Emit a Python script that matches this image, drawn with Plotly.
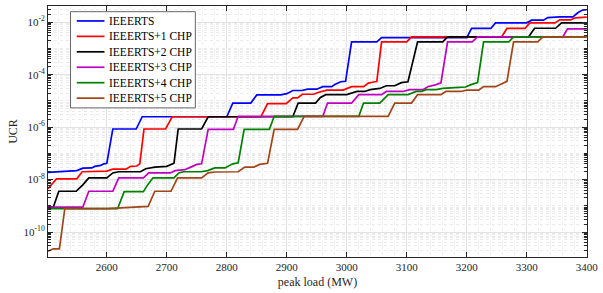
import plotly.graph_objects as go

# ---- data (peak load in MW, UCR) ----
x_base = [2502, 2540, 2550, 2560, 2575, 2580, 2590, 2595, 2600, 2610, 2649, 2659, 2800, 2810, 2840, 2850,
          2890, 2900, 2910, 2925, 2935, 2950, 2960, 2975, 2980, 2990, 2998, 3008, 3050, 3058, 3200, 3208,
          3240, 3248, 3300, 3308, 3328, 3335, 3355, 3377, 3385, 3393, 3400]
y_base = [1.9e-8, 2.1e-8, 2.2e-8, 2.75e-8, 2.8e-8, 3.2e-8, 3.5e-8, 4.0e-8, 4.2e-8, 8.5e-7, 8.5e-7, 2.5e-6,
          2.5e-6, 8.3e-6, 8.3e-6, 1.7e-5, 1.7e-5, 1.9e-5, 2.5e-5, 2.5e-5, 2.8e-5, 2.8e-5, 3.5e-5, 3.5e-5,
          4.2e-5, 5.4e-5, 5.6e-5, 1.8e-3, 1.8e-3, 2.6e-3, 2.6e-3, 5.8e-3, 5.8e-3, 9.5e-3, 9.5e-3, 1.2e-2,
          1.2e-2, 1.5e-2, 1.6e-2, 1.6e-2, 2.3e-2, 2.9e-2, 3.0e-2]

x_chp1 = [2502, 2516, 2550, 2559, 2600, 2610, 2632, 2640, 2650, 2655, 2662, 2698, 2709, 2857, 2868, 2899,
          2910, 2918, 2926, 2945, 2952, 2967, 2994, 3008, 3028, 3036, 3047, 3050, 3058, 3100, 3108, 3258,
          3267, 3297, 3305, 3347, 3355, 3373, 3381, 3400]
y_chp1 = [4.5e-9, 1.07e-8, 1.07e-8, 2.0e-8, 2.1e-8, 2.5e-8, 2.5e-8, 3.2e-8, 3.3e-8, 4.0e-8, 8.5e-7, 8.5e-7,
          2.5e-6, 2.5e-6, 7.9e-6, 7.9e-6, 1.3e-5, 1.3e-5, 1.8e-5, 1.8e-5, 2.1e-5, 2.6e-5, 2.6e-5, 3.5e-5,
          3.5e-5, 4.8e-5, 5.4e-5, 5.5e-5, 1.8e-3, 1.8e-3, 2.75e-3, 2.75e-3, 5.8e-3, 5.8e-3, 9.5e-3, 9.5e-3,
          1.23e-2, 1.23e-2, 1.48e-2, 1.58e-2]

x_chp2 = [2502, 2511, 2520, 2549, 2560, 2570, 2600, 2610, 2620, 2656, 2665, 2680, 2700, 2706, 2712, 2719,
          2758, 2769, 2910, 2919, 2948, 2956, 2965, 3000, 3017, 3030, 3039, 3055, 3066, 3080, 3091, 3102,
          3118, 3160, 3168, 3303, 3313, 3348, 3358, 3400]
y_chp2 = [9.1e-10, 9.1e-10, 3.6e-9, 3.6e-9, 6.3e-9, 1.17e-8, 1.17e-8, 1.8e-8, 2.0e-8, 2.0e-8, 2.6e-8,
          3.0e-8, 3.2e-8, 3.8e-8, 4.2e-8, 8.5e-7, 8.5e-7, 2.5e-6, 2.5e-6, 8.3e-6, 8.3e-6, 1.35e-5, 1.74e-5,
          1.74e-5, 2.3e-5, 2.3e-5, 2.7e-5, 3.0e-5, 3.8e-5, 3.8e-5, 5.0e-5, 5.4e-5, 1.8e-3, 1.8e-3, 2.75e-3,
          2.75e-3, 5.9e-3, 5.9e-3, 9.5e-3, 9.5e-3]

x_chp3 = [2502, 2560, 2570, 2610, 2620, 2661, 2670, 2706, 2714, 2730, 2740, 2750, 2758, 2769, 2811, 2819,
          2960, 2968, 3008, 3020, 3058, 3066, 3094, 3105, 3127, 3135, 3149, 3157, 3168, 3209, 3218, 3360,
          3368, 3400]
y_chp3 = [8.9e-10, 8.9e-10, 3.6e-9, 3.6e-9, 1.17e-8, 1.17e-8, 1.8e-8, 1.8e-8, 2.2e-8, 2.4e-8, 3.0e-8,
          3.8e-8, 4.0e-8, 8.3e-7, 8.3e-7, 2.6e-6, 2.6e-6, 8.3e-6, 8.3e-6, 1.74e-5, 1.74e-5, 2.3e-5, 2.3e-5,
          2.7e-5, 2.7e-5, 3.5e-5, 4.2e-5, 4.9e-5, 1.8e-3, 1.8e-3, 2.75e-3, 2.75e-3, 5.6e-3, 5.6e-3]

x_chp4 = [2502, 2618, 2629, 2661, 2668, 2677, 2712, 2720, 2728, 2758, 2768, 2780, 2797, 2810, 2819, 2829,
          2871, 2879, 3020, 3028, 3055, 3069, 3102, 3116, 3125, 3132, 3149, 3160, 3187, 3198, 3207, 3218,
          3228, 3270, 3278, 3400]
y_chp4 = [7.8e-10, 7.8e-10, 3.5e-9, 3.5e-9, 6.3e-9, 1.17e-8, 1.17e-8, 1.8e-8, 2.0e-8, 2.0e-8, 2.2e-8,
          2.8e-8, 2.8e-8, 4.0e-8, 4.4e-8, 8.3e-7, 8.3e-7, 2.6e-6, 2.6e-6, 8.3e-6, 8.3e-6, 1.74e-5, 1.74e-5,
          2.3e-5, 2.3e-5, 2.7e-5, 2.7e-5, 3.0e-5, 3.3e-5, 3.4e-5, 4.2e-5, 5.0e-5, 1.8e-3, 1.8e-3, 2.75e-3,
          2.75e-3]

x_chp5 = [2502, 2511, 2521, 2530, 2600, 2659, 2669, 2680, 2707, 2718, 2758, 2769, 2780, 2819, 2830, 2845,
          2855, 2868, 2879, 2918, 2929, 3069, 3080, 3108, 3118, 3157, 3165, 3190, 3200, 3220, 3228, 3248,
          3258, 3267, 3278, 3318, 3327, 3400]
y_chp5 = [1.86e-11, 2.3e-11, 2.3e-11, 7.8e-10, 7.9e-10, 8.9e-10, 9.5e-10, 3.6e-9, 3.6e-9, 1.17e-8,
          1.17e-8, 1.8e-8, 1.95e-8, 2.0e-8, 3.0e-8, 3.0e-8, 3.8e-8, 4.2e-8, 8.3e-7, 8.3e-7, 2.6e-6, 2.6e-6,
          8.3e-6, 8.3e-6, 1.74e-5, 1.74e-5, 2.3e-5, 2.3e-5, 2.6e-5, 2.6e-5, 3.5e-5, 3.5e-5, 4.5e-5, 5.6e-5,
          1.8e-3, 1.8e-3, 2.75e-3, 2.75e-3]

series_names = ["IEEERTS", "IEEERTS+1 CHP", "IEEERTS+2 CHP", "IEEERTS+3 CHP", "IEEERTS+4 CHP", "IEEERTS+5 CHP"]
series_x = [x_base, x_chp1, x_chp2, x_chp3, x_chp4, x_chp5]
series_y = [y_base, y_chp1, y_chp2, y_chp3, y_chp4, y_chp5]
colors = ["#0000ff", "#ff0000", "#000000", "#c000c0", "#008000", "#a0461a"]

x_tickvals = [2600, 2700, 2800, 2900, 3000, 3100, 3200, 3300, 3400]
y_tickvals = [1e-10, 1e-8, 1e-6, 1e-4, 1e-2]
y_ticktext = ["10<sup>-10</sup>", "10<sup>-8</sup>", "10<sup>-6</sup>", "10<sup>-4</sup>", "10<sup>-2</sup>"]

# minor tick positions (styling only)
y_minor = []
for k in range(-12, 0):
    for m in range(1, 10):
        v = m * 10.0 ** k
        if m == 1 and (k % 2 == 0):
            continue
        y_minor.append(v)

fig = go.Figure()
for name, xs, ys, c in zip(series_names, series_x, series_y, colors):
    fig.add_trace(go.Scatter(x=xs, y=ys, mode="lines", name=name, showlegend=False,
                             line=dict(color=c, width=1.7)))

font_family = "Liberation Serif, Times New Roman, serif"
axis_col = "#262626"

# ---- MATLAB-style legend box (compact spacing), in plot-area fractions ----
L, R, T, B = 48, 592, 5, 257          # plot area in pixels
W, H = R - L, B - T
def px(xp):
    return (xp - L) / W
def py(yp):
    return (B - yp) / H

shapes = [dict(type="rect", xref="paper", yref="paper",
               x0=px(70.7), x1=px(196.7), y0=py(107.3), y1=py(10.7),
               line=dict(color="#666666", width=1), fillcolor="white", layer="above")]
annotations = []
for i, (name, c) in enumerate(zip(series_names, colors)):
    yy = 20.0 + 15.5 * i
    shapes.append(dict(type="line", xref="paper", yref="paper",
                       x0=px(77), x1=px(105), y0=py(yy), y1=py(yy),
                       line=dict(color=c, width=1.7), layer="above"))
    annotations.append(dict(xref="paper", yref="paper", x=px(107.5), y=py(yy),
                            xanchor="left", yanchor="middle", text=name, showarrow=False,
                            font=dict(family=font_family, size=11.5, color="#000000")))

fig.update_layout(
    width=603, height=293,
    margin=dict(l=48, r=11, t=5, b=36),
    paper_bgcolor="white", plot_bgcolor="white",
    font=dict(family=font_family, size=11, color=axis_col),
    showlegend=False,
    shapes=shapes, annotations=annotations,
)

fig.update_xaxes(
    range=[2502, 3400.4], tickvals=x_tickvals, ticklabeloverflow="allow",
    ticks="inside", ticklen=5, tickcolor=axis_col, tickwidth=1,
    showline=True, linecolor=axis_col, linewidth=1, mirror="ticks",
    showgrid=True, gridcolor="#e3e3e3", gridwidth=1,
    zeroline=False,
    title=dict(text="peak load (MW)", font=dict(size=12), standoff=5),
    minor=dict(dtick=20, tick0=2500, ticks="", showgrid=True, gridcolor="#efefef", griddash="dot", gridwidth=1),
)
fig.update_yaxes(
    type="log", range=[-10.95, -1.38],
    tickvals=y_tickvals, ticktext=y_ticktext,
    ticks="inside", ticklen=5, tickcolor=axis_col, tickwidth=1,
    showline=True, linecolor=axis_col, linewidth=1, mirror="ticks",
    showgrid=True, gridcolor="#e3e3e3", gridwidth=1,
    zeroline=False,
    title=dict(text="UCR", font=dict(size=12), standoff=3),
    minor=dict(tickmode="array", tickvals=y_minor, ticks="inside", ticklen=3, tickcolor=axis_col,
               showgrid=True, gridcolor="#ebebeb", griddash="dot", gridwidth=1),
)

fig.write_html("out.html", config={"displayModeBar": False},
               post_script="document.body.style.margin='0';document.body.style.overflow='hidden';")
